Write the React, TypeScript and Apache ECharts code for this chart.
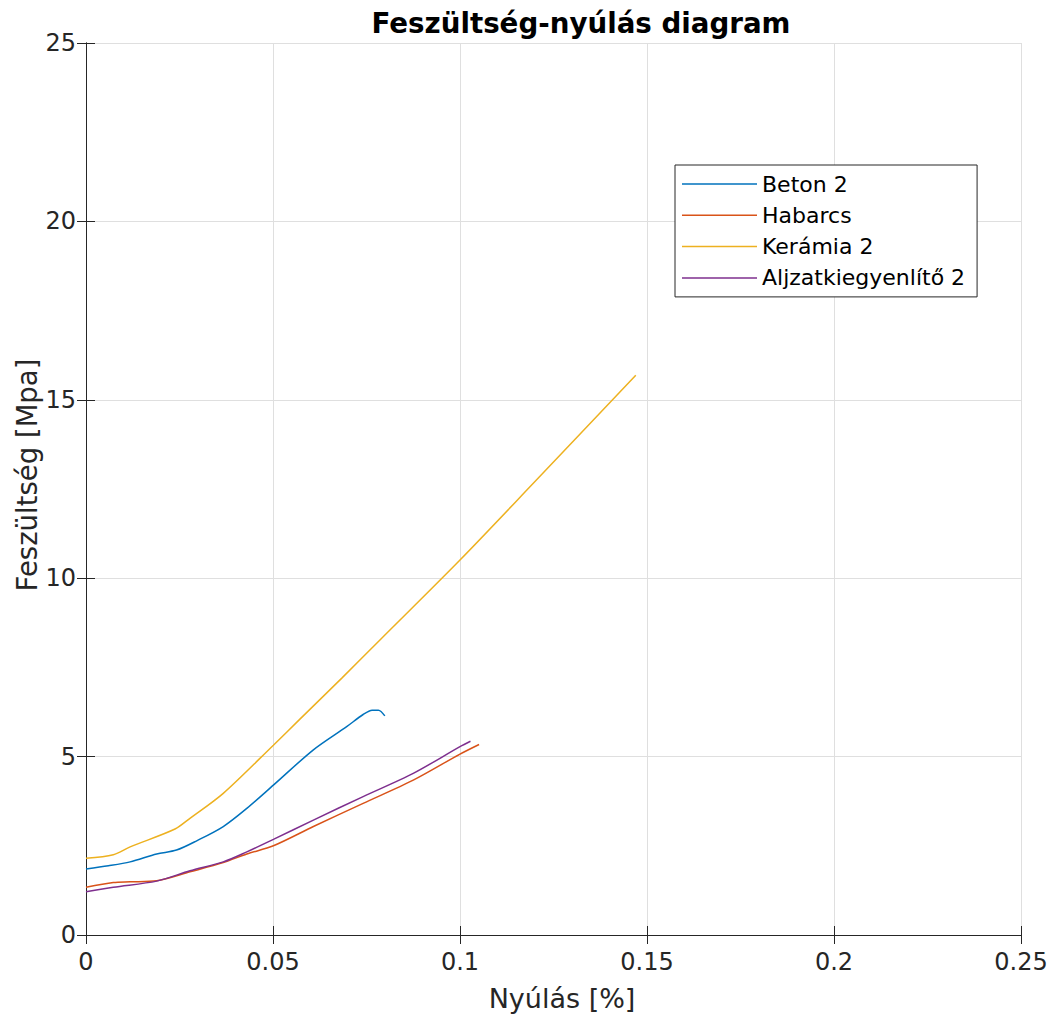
import React, { useEffect, useRef } from "react";
import * as echarts from "echarts";

const seriesNames = ["Beton 2", "Habarcs", "Kerámia 2", "Aljzatkiegyenlítő 2"];
const seriesColors = ["#0072BD", "#D95319", "#EDB120", "#7E2F8E"];

const betonData: [number, number][] = [
  [0.0, 1.85], [0.006, 1.94], [0.0118, 2.05], [0.0189, 2.27], [0.0242, 2.38],
  [0.0296, 2.64], [0.0367, 3.04], [0.043, 3.55], [0.0501, 4.2], [0.0608, 5.19],
  [0.0697, 5.84], [0.0741, 6.18], [0.0765, 6.3], [0.0782, 6.3], [0.0799, 6.14],
];
const habarcsData: [number, number][] = [
  [0.0, 1.34], [0.0073, 1.47], [0.0118, 1.49], [0.0189, 1.52], [0.0278, 1.77],
  [0.0367, 2.03], [0.043, 2.27], [0.0501, 2.5], [0.0608, 3.04], [0.0741, 3.69],
  [0.0875, 4.34], [0.1, 5.07], [0.1051, 5.34],
];
const keramiaData: [number, number][] = [
  [0.0, 2.15], [0.0073, 2.25], [0.0118, 2.47], [0.0238, 2.97], [0.0278, 3.27],
  [0.0367, 3.97], [0.0501, 5.32], [0.0572, 6.05], [0.0684, 7.2], [0.0786, 8.27],
  [0.1, 10.51], [0.1196, 12.66], [0.147, 15.69],
];
const aljzatData: [number, number][] = [
  [0.0, 1.21], [0.0073, 1.34], [0.0189, 1.51], [0.0278, 1.8], [0.0367, 2.05],
  [0.043, 2.33], [0.0501, 2.68], [0.0608, 3.22], [0.0741, 3.88], [0.0875, 4.53],
  [0.1, 5.28], [0.1028, 5.43],
];

const titleText = "Feszültség-nyúlás diagram";
const xName = "Nyúlás [%]";
const yName = "Feszültség [Mpa]";

const FONT = "DejaVu Sans";
const TXT = "#262626";

export default function App() {
  const ref = useRef<HTMLDivElement>(null);
  useEffect(() => {
    if (!ref.current) return;
    const chart = echarts.init(ref.current, undefined, { renderer: "svg" });
    const allData = [betonData, habarcsData, keramiaData, aljzatData];
    const baseAxis = {
      axisLine: { show: true, lineStyle: { color: TXT, width: 1 } },
      axisTick: { show: true, inside: true, length: 9, lineStyle: { color: TXT, width: 1 } },
    };
    const option: any = {
      animation: false,
      backgroundColor: "#ffffff",
      textStyle: { fontFamily: FONT },
      title: {
        text: titleText,
        left: 576,
        top: 4,
        textAlign: "center",
        textStyle: { fontFamily: FONT, fontWeight: "bold", fontSize: 27.7, color: "#000" },
      },
      grid: { left: 86, right: 35, top: 43, bottom: 82, containLabel: false },
      legend: {
        orient: "vertical",
        left: 675,
        top: 165,
        padding: [8, 12, 8, 7],
        icon: "rect",
        itemWidth: 75,
        itemHeight: 1.5,
        itemGap: 9.3,
        borderColor: TXT,
        borderWidth: 1,
        backgroundColor: "#fff",
        data: seriesNames,
        textStyle: { fontFamily: FONT, fontSize: 22, color: "#000", lineHeight: 22 },
      },
      xAxis: [
        {
          ...baseAxis,
          type: "value",
          min: 0,
          max: 0.25,
          interval: 0.05,
          position: "bottom",
          axisLabel: { fontFamily: FONT, fontSize: 24, color: TXT, margin: 15 },
          splitLine: { show: true, lineStyle: { color: "#dfdfdf", width: 1 } },
        },
        {
          ...baseAxis,
          type: "value",
          min: 0,
          max: 0.25,
          interval: 0.05,
          position: "top",
          axisLabel: { show: false },
          splitLine: { show: false },
        },
      ],
      yAxis: [
        {
          ...baseAxis,
          type: "value",
          min: 0,
          max: 25,
          interval: 5,
          position: "left",
          axisLabel: { fontFamily: FONT, fontSize: 24, color: TXT, margin: 10 },
          splitLine: { show: true, lineStyle: { color: "#dfdfdf", width: 1 } },
        },
        {
          ...baseAxis,
          type: "value",
          min: 0,
          max: 25,
          interval: 5,
          position: "right",
          axisLabel: { show: false },
          splitLine: { show: false },
        },
      ],
      graphic: [
        {
          type: "text",
          x: 562,
          y: 998,
          style: {
            text: xName,
            fontFamily: FONT,
            fontSize: 27,
            fill: TXT,
            align: "center",
            verticalAlign: "middle",
          },
        },
        {
          type: "text",
          x: 27,
          y: 475,
          rotation: Math.PI / 2,
          style: {
            text: yName,
            fontFamily: FONT,
            fontSize: 27.5,
            fill: TXT,
            align: "center",
            verticalAlign: "middle",
          },
        },
      ],
      series: seriesNames.map((name, i) => ({
        name,
        type: "line",
        xAxisIndex: 0,
        yAxisIndex: 0,
        data: allData[i],
        symbol: "none",
        smooth: 0.3,
        color: seriesColors[i],
        lineStyle: { width: 1.5, color: seriesColors[i] },
      })),
    };
    chart.setOption(option);
    return () => chart.dispose();
  }, []);
  return <div ref={ref} style={{ width: 1056, height: 1017, position: "absolute", left: 0, top: 0 }} />;
}
